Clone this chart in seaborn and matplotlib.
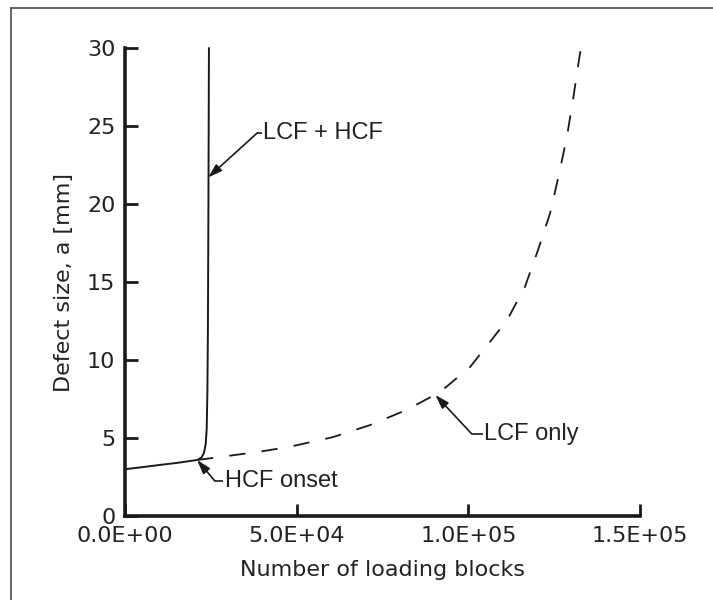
import matplotlib
matplotlib.use("Agg")
import matplotlib.pyplot as plt
import seaborn as sns
import pandas as pd
from matplotlib.lines import Line2D

# ---- data ----
# LCF + HCF (solid)
x_combined = [0, 5000, 10000, 15000, 21000, 22300, 23000, 23500, 23800, 24000, 24150, 24300, 24450]
a_combined = [3.0, 3.13, 3.27, 3.4, 3.59, 3.75, 4.05, 4.6, 5.6, 8.0, 12.0, 20.0, 30.0]
# LCF only (dashed, branches from HCF onset)
x_lcf = [21000, 30000, 40000, 48000, 56800, 60600, 71400, 82000, 91800, 100500, 105000,
         111300, 116500, 120300, 123800, 126400, 128700, 130500, 132200, 132800]
a_lcf = [3.59, 3.85, 4.15, 4.44, 4.87, 5.06, 5.83, 6.8, 7.95, 9.55, 10.8,
         12.56, 14.7, 17.05, 19.4, 21.9, 24.3, 26.7, 29.2, 30.0]

x_ticks = [0, 50000, 100000, 150000]
x_tick_labels = ["0.0E+00", "5.0E+04", "1.0E+05", "1.5E+05"]
y_ticks = [0, 5, 10, 15, 20, 25, 30]

sns.set_theme(style="ticks")
plt.rcParams["font.family"] = ["DejaVu Sans"]

fig = plt.figure(figsize=(7.13, 6.00), dpi=100)
ax = fig.add_axes([125/713, 84/600, 515/713, 468/600])

df_c = pd.DataFrame({"x": x_combined, "a": a_combined})
df_l = pd.DataFrame({"x": x_lcf, "a": a_lcf})
sns.lineplot(data=df_c, x="x", y="a", ax=ax, sort=False, estimator=None,
             color="#1a1a1a", linewidth=1.4)
sns.lineplot(data=df_l, x="x", y="a", ax=ax, sort=False, estimator=None,
             color="#1a1a1a", linewidth=1.3, dashes=False)
ax.lines[-1].set_dashes([9, 9])

ax.set_xlim(0, 150000)
ax.set_ylim(0, 30)
ax.set_xticks(x_ticks)
ax.set_xticklabels(x_tick_labels)
ax.set_yticks(y_ticks)
ax.set_xlabel("Number of loading blocks", fontsize=16, color="#222222", labelpad=10)
ax.set_ylabel("Defect size, a [mm]", fontsize=16, color="#222222", labelpad=9)
ax.tick_params(direction="in", length=9, width=2, labelsize=16, colors="#1a1a1a",
               labelcolor="#222222", pad=7)
for s in ["top", "right"]:
    ax.spines[s].set_visible(False)
for s in ["left", "bottom"]:
    ax.spines[s].set_linewidth(2.6)
    ax.spines[s].set_color("#1a1a1a")
for ln in ax.lines:
    ln.set_clip_on(False)

# ---- annotations ----
ann_font = dict(family=["Liberation Sans", "DejaVu Sans"], fontsize=17, color="#222222")
arrow = dict(arrowstyle="-|>,head_length=0.7,head_width=0.22", color="#1a1a1a",
             lw=1.2, shrinkA=0, shrinkB=0)

def label(text, tip, knee, line_end, text_x):
    ax.annotate("", xy=tip, xytext=knee, arrowprops=arrow)
    ax.plot([knee[0], line_end], [knee[1], knee[1]], color="#1a1a1a", lw=1.2,
            solid_capstyle="butt")
    ax.text(text_x, knee[1], text, ha="left", va="center", **ann_font)

label("LCF + HCF", (24200, 21.7), (38500, 24.55), 40000, 40300)
label("HCF onset", (21000, 3.59), (26200, 2.24), 28600, 29000)
label("LCF only", (90400, 7.76), (101000, 5.26), 104300, 104700)

# figure frame (top and left edges visible)
fig.add_artist(Line2D([11/713, 11/713], [0, 1 - 8/600], transform=fig.transFigure,
                      color="#4a4a4a", lw=1.2))
fig.add_artist(Line2D([11/713, 1], [1 - 8/600, 1 - 8/600], transform=fig.transFigure,
                      color="#4a4a4a", lw=1.2))

fig.savefig("out.png", dpi=100, facecolor="white")
